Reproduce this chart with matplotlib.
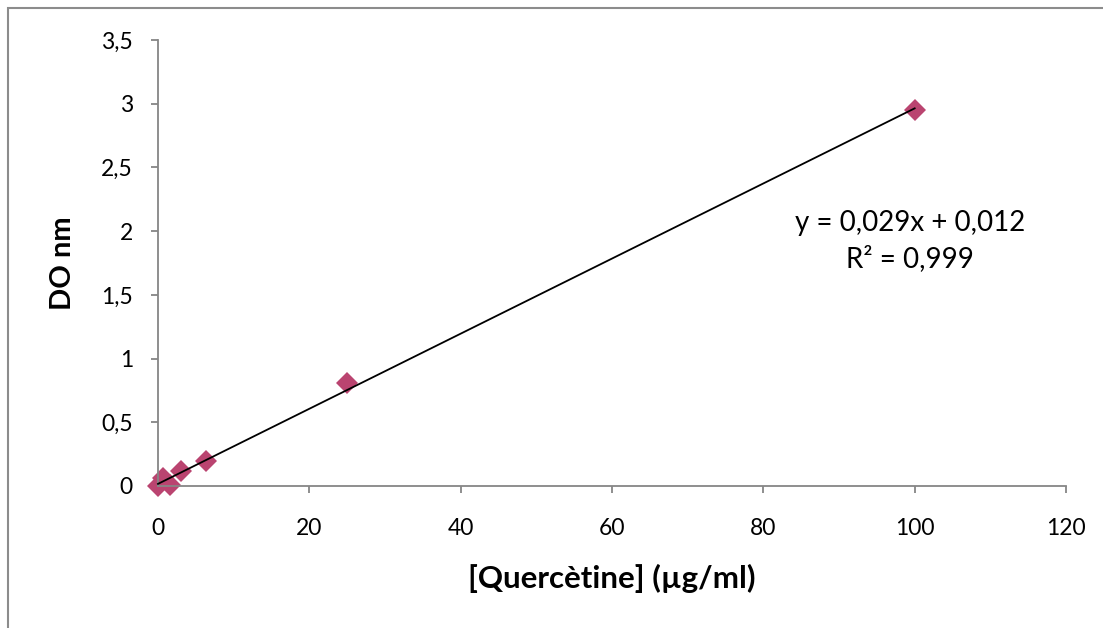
import numpy as np
import matplotlib.pyplot as plt
from matplotlib.patches import Rectangle

plt.rcParams['font.family'] = ['Lato', 'DejaVu Sans']

# Data
conc = [0, 0.7, 1.6, 3.1, 6.3, 25, 100]
do_nm = [0.0, 0.06, 0.005, 0.12, 0.2, 0.81, 2.95]
x_ticks = [0, 20, 40, 60, 80, 100, 120]
y_ticks = [0, 0.5, 1, 1.5, 2, 2.5, 3, 3.5]
eq_text = "y = 0,029x + 0,012\nR² = 0,999"

fig = plt.figure(figsize=(11.03, 6.28), dpi=100)
ax = fig.add_axes([158 / 1103, 1 - 486 / 628, (1066 - 158) / 1103, (486 - 40) / 628])

# outer chart frame (only left and top visible)
fig.patches.append(Rectangle((8 / 1103, -0.1), 1.2, 1 - 8 / 628 + 0.1,
                             transform=fig.transFigure, fill=False,
                             edgecolor='#8c8c8c', linewidth=1.5))

# linear trend line
slope, intercept = np.polyfit(conc, do_nm, 1)
xs = np.array([min(conc), max(conc)])
ax.plot(xs, slope * xs + intercept, color='black', linewidth=1.3, zorder=3,
        clip_on=False)

ax.plot(conc, do_nm, linestyle='none', marker='D', markersize=11,
        color='#BA4470', markeredgewidth=0, zorder=2, clip_on=False)

ax.set_xlim(0, 120)
ax.set_ylim(0, 3.5)
ax.set_xticks(x_ticks)
ax.set_yticks(y_ticks)
ax.set_xticklabels([str(t) for t in x_ticks])
ax.set_yticklabels([('%g' % t).replace('.', ',') for t in y_ticks])

for side in ['top', 'right']:
    ax.spines[side].set_visible(False)
for side in ['left', 'bottom']:
    ax.spines[side].set_color('#868686')
    ax.spines[side].set_linewidth(1.3)
ax.tick_params(direction='out', length=5, width=1.3, color='#868686',
               labelsize=16.5)
ax.tick_params(axis='x', pad=18)
ax.tick_params(axis='y', pad=13)

ax.set_xlabel("[Quercètine] (µg/ml)", fontsize=22.5, fontweight='bold', labelpad=18)
ax.set_ylabel("DO nm", fontsize=21, fontweight='bold', labelpad=18)

ax.text(910 / 1103, 1 - 241 / 628, eq_text, transform=fig.transFigure,
        fontsize=20, ha='center', va='center', linespacing=1.45)

fig.savefig("out.png", dpi=100)
